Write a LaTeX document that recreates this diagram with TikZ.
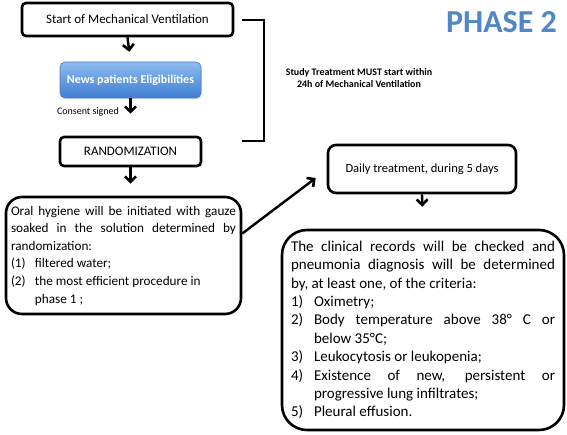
\documentclass[tikz,border=0pt]{standalone}
\usepackage{fontspec}
\setmainfont{Carlito}
\usetikzlibrary{arrows.meta,shadows}
\definecolor{phaseblue}{HTML}{4F87C7}
\definecolor{btop}{HTML}{8DBCF0}
\definecolor{bbot}{HTML}{3F7ED0}
\definecolor{bline}{HTML}{4A82CC}
\newcommand{\hangitem}[2]{\hangindent=#1\hangafter=1\noindent\makebox[#1][l]{#2}}
\tikzset{
  flowbox/.style={draw, line width=2.6pt, rounded corners=#1, inner sep=0pt},
  flowbox/.default=4pt,
  bluebox/.style={rounded corners=5pt, top color=btop, bottom color=bbot, draw=bline, line width=0.6pt,
    drop shadow={opacity=0.25, shadow xshift=0.8pt, shadow yshift=-1.2pt},
    text=white, font={\fontsize{12}{14}\selectfont\bfseries}, inner sep=0pt},
  arr/.style={-{Straight Barb[length=5.5pt,width=11pt,line width=2.6pt]}, line width=2.4pt},
  bracket/.style={line width=2.6pt, line cap=rect}
}
\begin{document}
\begin{tikzpicture}[x=1pt,y=-1pt]
\useasboundingbox (0,0) rectangle (567,435);

\node[flowbox, minimum width=211pt, minimum height=33pt, font={\fontsize{13}{15}\selectfont}] (start) at (127.5,19.5) {Start of Mechanical Ventilation};

\node[bluebox, minimum width=141pt, minimum height=36pt] (elig) at (130.5,80) {News patients Eligibilities};

\node[flowbox, minimum width=141pt, minimum height=29pt, font={\fontsize{13}{15}\selectfont}] (rand) at (130.5,151.5) {RANDOMIZATION};

\node[flowbox=16pt, minimum width=235pt, minimum height=117pt, text width=225pt, align=justify,
  font={\fontsize{13.2}{17.6}\selectfont}] (oral) at (123.5,255.5) {%
Oral hygiene will be initiated with gauze\linebreak soaked in the solution determined by\linebreak randomization:\par
{\rightskip=0pt plus 1fil \hangitem{24pt}{(1)}filtered water;\par}
{\rightskip=0pt plus 1fil \hangitem{24pt}{(2)}the most efficient procedure in\newline phase 1 ;\par}};

\node[flowbox=8pt, minimum width=188pt, minimum height=48pt, font={\fontsize{12.5}{14}\selectfont}] (daily) at (422,169) {Daily treatment, during 5 days};

\node[flowbox=25pt, minimum width=282pt, minimum height=200pt, text width=264pt, align=justify,
  font={\fontsize{15}{18.4}\selectfont}] (clin) at (423,330) {%
The clinical records will be checked and\linebreak pneumonia diagnosis will be determined\linebreak by, at least one, of the criteria:\par
\hangitem{23pt}{1)}Oximetry;\par
\hangitem{23pt}{2)}Body temperature above 38° C or\linebreak below 35°C;\par
\hangitem{23pt}{3)}Leukocytosis or leukopenia;\par
\hangitem{23pt}{4)}Existence of new, persistent or\linebreak progressive lung infiltrates;\par
\hangitem{23pt}{5)}Pleural effusion.\par};

\node[font={\fontsize{32}{36}\selectfont\bfseries}, text=phaseblue, inner sep=0pt] (phase) at (501.5,22) {PHASE 2};

\node[font={\fontsize{10}{12}\selectfont\bfseries}, align=center, inner sep=0pt] (study) at (359,78) {Study Treatment MUST start within\\24h of Mechanical Ventilation};

\node[font={\fontsize{10}{12}\selectfont}, inner sep=0pt] (consent) at (88,112) {Consent signed};

\coordinate (bt) at (243,20);
\coordinate (bb) at (243,141);
\draw[bracket] (bt) -- (264,20) -- (264,141) -- (bb);

\draw[arr, shorten >=10pt] (start.south) -- (elig.north);
\draw[arr, shorten >=22pt] (elig.south) -- (rand.north);
\draw[arr, shorten >=12pt] (rand.south) -- (rand.south |- oral.north);
\draw[arr, shorten >=22pt] (daily.south) -- (clin.north);
\coordinate (dtip) at ([xshift=-11pt,yshift=-9pt]daily.west);
\draw[arr] ([yshift=22pt]oral.east) -- (dtip);
\end{tikzpicture}
\end{document}
